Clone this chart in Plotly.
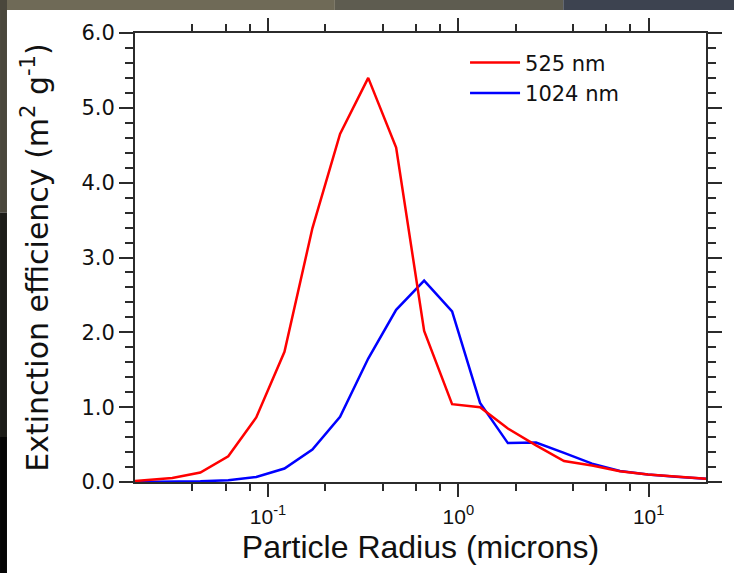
import plotly.graph_objects as go

# ---- data ----
radius = [0.02, 0.0314, 0.0441, 0.0618, 0.0867, 0.122, 0.171, 0.239, 0.336, 0.471,
          0.661, 0.927, 1.30, 1.82, 2.56, 3.59, 5.04, 7.06, 9.91, 13.9, 20.0]
ext_525 = [0.013, 0.054, 0.126, 0.344, 0.862, 1.74, 3.39, 4.65, 5.40, 4.47,
           2.02, 1.04, 1.00, 0.715, 0.49, 0.28, 0.22, 0.145, 0.10, 0.07, 0.045]
ext_1024 = [0.0, 0.003, 0.01, 0.023, 0.067, 0.18, 0.434, 0.87, 1.65, 2.30,
            2.69, 2.28, 1.057, 0.52, 0.527, 0.39, 0.246, 0.147, 0.10, 0.07, 0.045]

x_tickvals = [0.1, 1, 10]
x_ticktext = ["10<sup>-1</sup>", "10<sup>0</sup>", "10<sup>1</sup>"]
x_minorvals = [0.04, 0.06, 0.08, 0.2, 0.4, 0.6, 0.8, 2, 4, 6, 8]
y_tickvals = [0, 1, 2, 3, 4, 5, 6]
y_ticktext = ["0.0", "1.0", "2.0", "3.0", "4.0", "5.0", "6.0"]

AX = "#2b2b2b"
TITLE_FONT = "Liberation Sans, Arial, sans-serif"
WIDE_FONT = "DejaVu Sans, sans-serif"

fig = go.Figure()
fig.add_trace(go.Scatter(x=radius, y=ext_1024, mode="lines", name="1024 nm",
                         line=dict(color="#0000ff", width=2.5)))
fig.add_trace(go.Scatter(x=radius, y=ext_525, mode="lines", name="525 nm",
                         line=dict(color="#ff0000", width=2.5)))

fig.update_layout(
    width=734, height=573,
    margin=dict(l=135, r=28, t=33, b=91),
    paper_bgcolor="white", plot_bgcolor="white",
    showlegend=True,
    legend=dict(x=0.578, y=0.979, xanchor="left", yanchor="top",
                bgcolor="rgba(0,0,0,0)", borderwidth=0, traceorder="reversed",
                font=dict(family=WIDE_FONT, size=21, color="#111"),
                itemwidth=50, tracegroupgap=0),
    xaxis=dict(
        type="log", range=[-1.69897, 1.30103], automargin=False,
        tickmode="array", tickvals=x_tickvals, ticktext=x_ticktext,
        ticks="outside", ticklen=13, tickwidth=2, tickcolor=AX,
        ticklabelstandoff=2,
        showline=True, linewidth=2, linecolor=AX, mirror="ticks",
        showgrid=False, zeroline=False,
        tickfont=dict(family=TITLE_FONT, size=21, color="#111"),
        minor=dict(tickmode="array", tickvals=x_minorvals, ticks="outside",
                   ticklen=7, tickwidth=2, tickcolor=AX, showgrid=False),
        title=dict(text="Particle Radius (microns)", standoff=8,
                   font=dict(family=TITLE_FONT, size=32, color="#111")),
    ),
    yaxis=dict(
        range=[0, 6], automargin=False,
        tickmode="array", tickvals=y_tickvals, ticktext=y_ticktext,
        ticks="outside", ticklen=14, tickwidth=2, tickcolor=AX,
        showline=True, linewidth=2, linecolor=AX, mirror="ticks",
        showgrid=False, zeroline=False,
        tickfont=dict(family=WIDE_FONT, size=21, color="#111"),
        minor=dict(dtick=0.2, tick0=0, ticks="outside", ticklen=8,
                   tickwidth=2, tickcolor=AX, showgrid=False),
        title=dict(text="Extinction efficiency (m<sup>2</sup> g<sup>-1</sup>)",
                   standoff=24,
                   font=dict(family=WIDE_FONT, size=30, color="#111")),
    ),
    shapes=[
        # dark photo border at the top and left edges of the slide
        dict(type="rect", xref="paper", yref="paper", x0=-0.2364, x1=0.35,
             y0=1.051, y1=1.0735, fillcolor="#6f6a57", line_width=0, layer="below"),
        dict(type="rect", xref="paper", yref="paper", x0=0.35, x1=0.75,
             y0=1.051, y1=1.0735, fillcolor="#5e5c50", line_width=0, layer="below"),
        dict(type="rect", xref="paper", yref="paper", x0=0.75, x1=1.05,
             y0=1.051, y1=1.0735, fillcolor="#3d4350", line_width=0, layer="below"),
        dict(type="rect", xref="paper", yref="paper", x0=-0.2364, x1=-0.2242,
             y0=0.6, y1=1.0735, fillcolor="#4a473c", line_width=0, layer="below"),
        dict(type="rect", xref="paper", yref="paper", x0=-0.2364, x1=-0.2242,
             y0=0.1, y1=0.6, fillcolor="#1c1c18", line_width=0, layer="below"),
        dict(type="rect", xref="paper", yref="paper", x0=-0.2364, x1=-0.2242,
             y0=-0.21, y1=0.1, fillcolor="#050505", line_width=0, layer="below"),
    ],
)

fig.write_html(
    "out.html",
    config={"displayModeBar": False},
    post_script="document.body.style.margin='0';document.body.style.overflow='hidden';",
)
